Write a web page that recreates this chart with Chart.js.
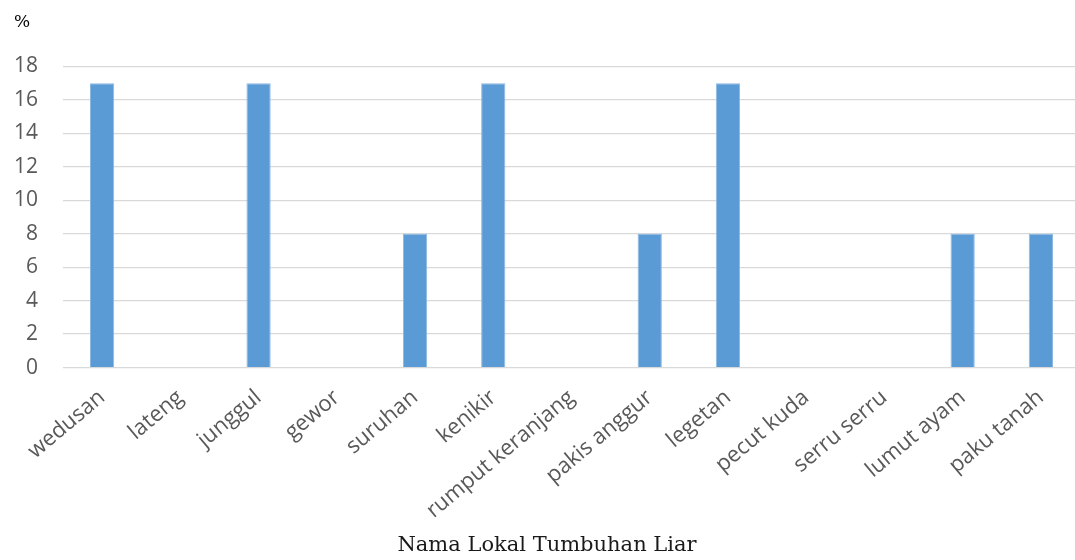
<!DOCTYPE html>
<html>
<head>
<meta charset="utf-8">
<script src="https://cdn.jsdelivr.net/npm/chart.js@4"></script>
<style>
  html, body { margin: 0; padding: 0; background: #ffffff; overflow: hidden; }
  #wrap { width: 1080px; height: 560px; }
</style>
</head>
<body>
<div id="wrap"><canvas id="chart" width="1080" height="560"></canvas></div>
<script>
// Local wild plant names and their share (%)
const categories = ['wedusan', 'lateng', 'junggul', 'gewor', 'suruhan', 'kenikir',
  'rumput keranjang', 'pakis anggur', 'legetan', 'pecut kuda', 'serru serru',
  'lumut ayam', 'paku tanah'];
const percentValues = [17, 0, 17, 0, 8, 17, 0, 8, 17, 0, 0, 8, 8];
const yTicks = [0, 2, 4, 6, 8, 10, 12, 14, 16, 18];

const ctx = document.getElementById('chart').getContext('2d');
new Chart(ctx, {
  type: 'bar',
  data: {
    labels: categories,
    datasets: [{
      data: percentValues,
      backgroundColor: '#5b9bd5',
      borderColor: '#8cb8e3',
      borderWidth: 1,
      barPercentage: 0.31,
      categoryPercentage: 1.0
    }]
  },
  options: {
    responsive: false,
    animation: false,
    layout: { padding: { left: 14, right: 0, top: 0, bottom: 0 } },
    plugins: {
      legend: { display: false },
      tooltip: { enabled: false },
      title: {
        display: true,
        text: '%',
        align: 'start',
        position: 'top',
        color: '#000000',
        font: { family: '"DejaVu Serif", "Liberation Serif", serif', size: 17, weight: 'normal' },
        padding: { top: 12, bottom: 34 }
      },
      subtitle: {
        display: true,
        text: 'Nama Lokal Tumbuhan Liar',
        position: 'bottom',
        color: '#1a1a1a',
        font: { family: '"DejaVu Serif", "Liberation Serif", serif', size: 21 },
        padding: { top: 0, bottom: 2 }
      }
    },
    scales: {
      x: {
        grid: { display: false },
        border: { display: true, color: '#d9d9d9' },
        ticks: {
          color: '#595959',
          font: { family: '"Open Sans", "Liberation Sans", sans-serif', size: 22 },
          minRotation: 40,
          maxRotation: 40,
          autoSkip: false,
          padding: 9
        },
        // rotated labels may hang past the plot edges; keep the plot full width
        afterFit: (scale) => { scale.paddingLeft = 0; scale.paddingRight = 0; }
      },
      y: {
        min: 0,
        max: 18,
        afterBuildTicks: (axis) => { axis.ticks = yTicks.map(v => ({ value: v })); },
        afterFit: (axis) => { axis.width = 49; },
        grid: { color: '#d9d9d9', lineWidth: 1.3, drawTicks: false },
        border: { display: false },
        ticks: {
          color: '#595959',
          font: { family: '"Open Sans", "Liberation Sans", sans-serif', size: 21 },
          padding: 25
        }
      }
    }
  }
});
</script>
</body>
</html>
